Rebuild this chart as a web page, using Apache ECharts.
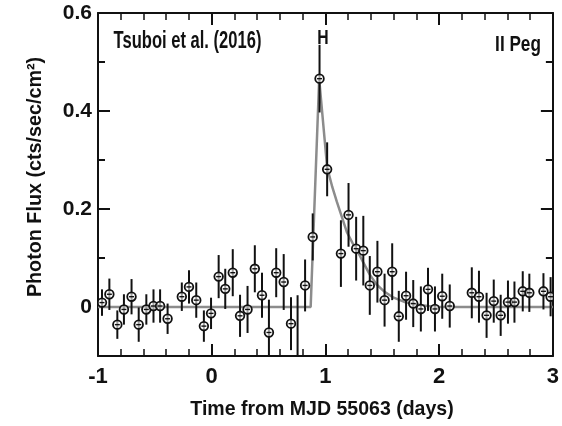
<!DOCTYPE html>
<html>
<head>
<meta charset="utf-8">
<script src="https://cdn.jsdelivr.net/npm/echarts@6/dist/echarts.min.js"></script>
<style>
  html, body { margin: 0; padding: 0; background: #fff; }
  #chart { width: 562px; height: 426px; }
</style>
</head>
<body>
<div id="chart"></div>
<script>
// Light curve of II Peg flare (time in days from MJD 55063)
const time = [
  -0.965, -0.90, -0.83, -0.772, -0.705, -0.642, -0.575, -0.512, -0.454, -0.388,
  -0.263, -0.20, -0.136, -0.069, -0.006, 0.061, 0.119, 0.185, 0.249, 0.315,
  0.379, 0.442, 0.503, 0.567, 0.633, 0.697, 0.755, 0.821, 0.888, 0.948,
  1.015, 1.136, 1.203, 1.27, 1.333, 1.39, 1.457, 1.52, 1.587, 1.645,
  1.709, 1.772, 1.839, 1.902, 1.963, 2.027, 2.093,
  2.287, 2.35, 2.417, 2.48, 2.541, 2.605, 2.662, 2.735, 2.793, 2.917, 2.98
];
const flux = [
  0.009, 0.026, -0.036, -0.005, 0.021, -0.036, -0.005, 0.002, 0.002, -0.024,
  0.021, 0.041, 0.014, -0.039, -0.013, 0.062, 0.037, 0.070, -0.018, -0.005,
  0.078, 0.024, -0.052, 0.070, 0.051, -0.034, -0.115, 0.044, 0.143, 0.466,
  0.281, 0.109, 0.188, 0.119, 0.115, 0.044, 0.072, 0.014, 0.072, -0.019,
  0.023, 0.007, -0.004, 0.036, -0.004, 0.022, 0.002,
  0.029, 0.021, -0.017, 0.012, -0.017, 0.010, 0.010, 0.032, 0.029, 0.032, 0.021
];
const fluxErr = [
  0.027, 0.032, 0.029, 0.031, 0.036, 0.035, 0.031, 0.034, 0.034, 0.031,
  0.029, 0.034, 0.036, 0.032, 0.032, 0.044, 0.041, 0.048, 0.043, 0.048,
  0.048, 0.046, 0.067, 0.050, 0.057, 0.054, 0.139, 0.053, 0.048, 0.069,
  0.055, 0.068, 0.065, 0.065, 0.071, 0.060, 0.063, 0.054, 0.058, 0.052,
  0.049, 0.048, 0.046, 0.044, 0.046, 0.046, 0.044,
  0.052, 0.053, 0.046, 0.044, 0.042, 0.044, 0.042, 0.041, 0.039, 0.037, 0.040
];

// Best-fit flare model (linear rise, exponential decay)
const modelTime = [-1, 0.87, 0.945, 1.015, 1.06, 1.1, 1.15, 1.19, 1.24, 1.28, 1.33, 1.39, 1.45, 1.52, 1.6, 1.71, 1.8, 1.9, 2.0, 3];
const modelFlux = [0, 0, 0.465, 0.285, 0.245, 0.215, 0.18, 0.152, 0.13, 0.115, 0.092, 0.066, 0.046, 0.031, 0.019, 0.009, 0.005, 0.002, 0, 0];

const yMajor = [0, 0.2, 0.4, 0.6];
const yMinor = [-0.1, 0.1, 0.3, 0.5];

const FAMILY = '"Liberation Sans", Arial, sans-serif';
const INK = '#111';

const chart = echarts.init(document.getElementById('chart'), null, { renderer: 'canvas' });

const points = time.map((t, i) => [t, flux[i], fluxErr[i]]);
const model = modelTime.map((t, i) => [t, modelFlux[i]]);

function xAxisDef(pos, showLabel) {
  return {
    type: 'value', position: pos, min: -1, max: 3, interval: 1,
    axisLine: { show: true, onZero: false, lineStyle: { color: INK, width: 2 } },
    axisTick: { show: true, inside: true, length: 12, lineStyle: { color: INK, width: 2 } },
    minorTick: { show: true, splitNumber: 5, length: 7, lineStyle: { color: INK, width: 1.5 } },
    axisLabel: { show: showLabel, margin: 10, color: INK, fontFamily: FAMILY, fontSize: 22, fontWeight: 'bold' },
    splitLine: { show: false }
  };
}

function yAxisDef(pos, vals, len, showLabel, showLine) {
  return {
    type: 'value', position: pos, min: -0.1, max: 0.6,
    axisLine: { show: showLine, onZero: false, lineStyle: { color: INK, width: 2 } },
    axisTick: { show: true, inside: true, length: len, customValues: vals, lineStyle: { color: INK, width: 2 } },
    axisLabel: {
      show: showLabel, customValues: vals, margin: 6, color: INK, fontFamily: FAMILY, fontSize: 21, fontWeight: 'bold',
      formatter: v => (Math.abs(v) < 1e-9 ? '0' : v.toFixed(1))
    },
    splitLine: { show: false }
  };
}

// condensed-looking text labels
function label(text, x, y, size, sx, rot) {
  return {
    type: 'text', x: x, y: y, scaleX: sx, rotation: rot || 0, z: 10,
    style: { text: text, fill: INK, font: 'bold ' + size + 'px ' + FAMILY, align: 'center', verticalAlign: 'middle' }
  };
}

chart.setOption({
  animation: false,
  backgroundColor: '#fff',
  grid: { left: 98, right: 3, top: 13, bottom: 70 },
  xAxis: [xAxisDef('bottom', true), xAxisDef('top', false)],
  yAxis: [
    yAxisDef('left', yMajor, 12, true, true),
    yAxisDef('left', yMinor, 7, false, false),
    yAxisDef('right', yMajor, 12, false, true),
    yAxisDef('right', yMinor, 7, false, false)
  ],
  graphic: [
    label('Tsuboi et al. (2016)', 187.5, 42, 23, 0.72),
    label('II Peg', 518, 45, 22, 0.78),
    label('H', 323, 38, 21, 0.75),
    label('Time from MJD 55063 (days)', 322, 409, 21, 0.93),
    label('Photon Flux (cts/sec/cm²)', 35, 177, 21, 0.94, Math.PI / 2)
  ],
  series: [
    {
      type: 'line', xAxisIndex: 0, yAxisIndex: 0, data: model, showSymbol: false,
      lineStyle: { color: '#8c8c8c', width: 2.5 }, smooth: false, z: 2
    },
    {
      type: 'custom', xAxisIndex: 0, yAxisIndex: 0, data: points, clip: true, z: 3,
      renderItem: function (params, api) {
        const x = api.value(0), y = api.value(1), e = api.value(2);
        const c = api.coord([x, y]);
        const top = api.coord([x, y + e]);
        const bot = api.coord([x, y - e]);
        const r = 4.3;
        return {
          type: 'group',
          children: [
            { type: 'line', shape: { x1: c[0], y1: top[1], x2: c[0], y2: bot[1] }, style: { stroke: INK, lineWidth: 2 } },
            { type: 'circle', shape: { cx: c[0], cy: c[1], r: r }, style: { fill: 'rgba(255,255,255,0.6)', stroke: INK, lineWidth: 1.8 } },
            { type: 'line', shape: { x1: c[0] - 2.5, y1: c[1], x2: c[0] + 2.5, y2: c[1] }, style: { stroke: INK, lineWidth: 1.4 } }
          ]
        };
      }
    }
  ]
});
</script>
</body>
</html>
